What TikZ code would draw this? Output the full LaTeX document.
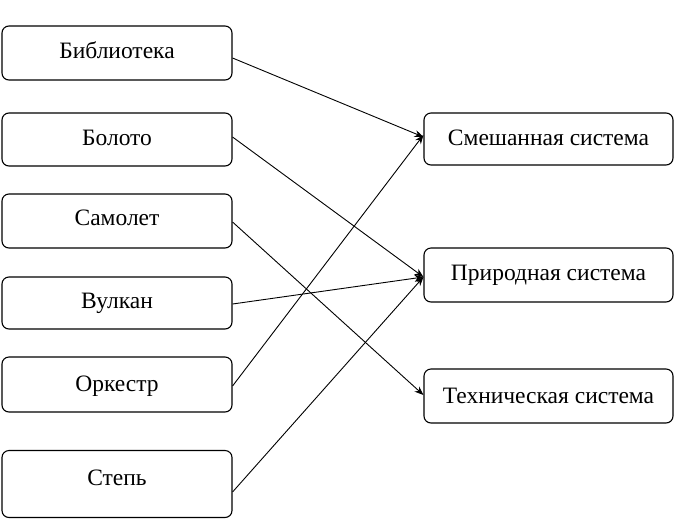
\documentclass[tikz,border=0pt]{standalone}
\usepackage{fontspec}
\setmainfont{Liberation Serif}
\usetikzlibrary{arrows.meta}
\begin{document}
\begin{tikzpicture}[x=1pt,y=-1pt,
  box/.style={draw=black,line width=1.1pt,rounded corners=7pt,inner sep=0pt},
  txt/.style={font=\fontsize{23.5}{26}\selectfont,inner sep=0pt,anchor=base},
  arr/.style={line width=0.9pt,-{Stealth[length=9pt,width=7pt]}}]
\useasboundingbox (0,0) rectangle (674,520);
% left boxes
\node[box,minimum width=230pt,minimum height=54pt] (b1) at (117,53) {};
\node[box,minimum width=230pt,minimum height=53pt] (b2) at (117,139.5) {};
\node[box,minimum width=230pt,minimum height=54pt] (b3) at (117,221) {};
\node[box,minimum width=230pt,minimum height=52pt] (b4) at (117,303) {};
\node[box,minimum width=230pt,minimum height=55pt] (b5) at (117,384.5) {};
\node[box,minimum width=230pt,minimum height=67pt] (b6) at (117,484) {};
% right boxes
\node[box,minimum width=249pt,minimum height=52pt] (r1) at (548.5,139) {};
\node[box,minimum width=249pt,minimum height=54pt] (r2) at (548.5,275) {};
\node[box,minimum width=249pt,minimum height=54pt] (r3) at (548.5,396) {};
% texts
\node[txt] (t1) at (117,58) {Библиотека};
\node[txt] (t2) at (117,145) {Болото};
\node[txt] (t3) at (117,225) {Самолет};
\node[txt] (t4) at (117,308) {Вулкан};
\node[txt] (t5) at (117,391) {Оркестр};
\node[txt] (t6) at (117,485) {Степь};
\node[txt] (u1) at (548.5,145) {Смешанная система};
\node[txt] (u2) at (548.5,280) {Природная система};
\node[txt] (u3) at (548.5,403) {Техническая система};
% arrows
\draw[arr] ([yshift=-5pt]b1.east) -- ([yshift=2pt]r1.west);
\draw[arr] ([yshift=2.5pt]b2.east) -- ([yshift=-2pt]r2.west);
\draw[arr] ([yshift=-1pt]b3.east) -- ([yshift=1pt]r3.west);
\draw[arr] ([yshift=-1pt]b4.east) -- ([yshift=-2pt]r2.west);
\draw[arr] ([yshift=-1.5pt]b5.east) -- ([yshift=4pt]r1.west);
\draw[arr] ([yshift=-8pt]b6.east) -- ([yshift=-2pt]r2.west);
\end{tikzpicture}
\end{document}
